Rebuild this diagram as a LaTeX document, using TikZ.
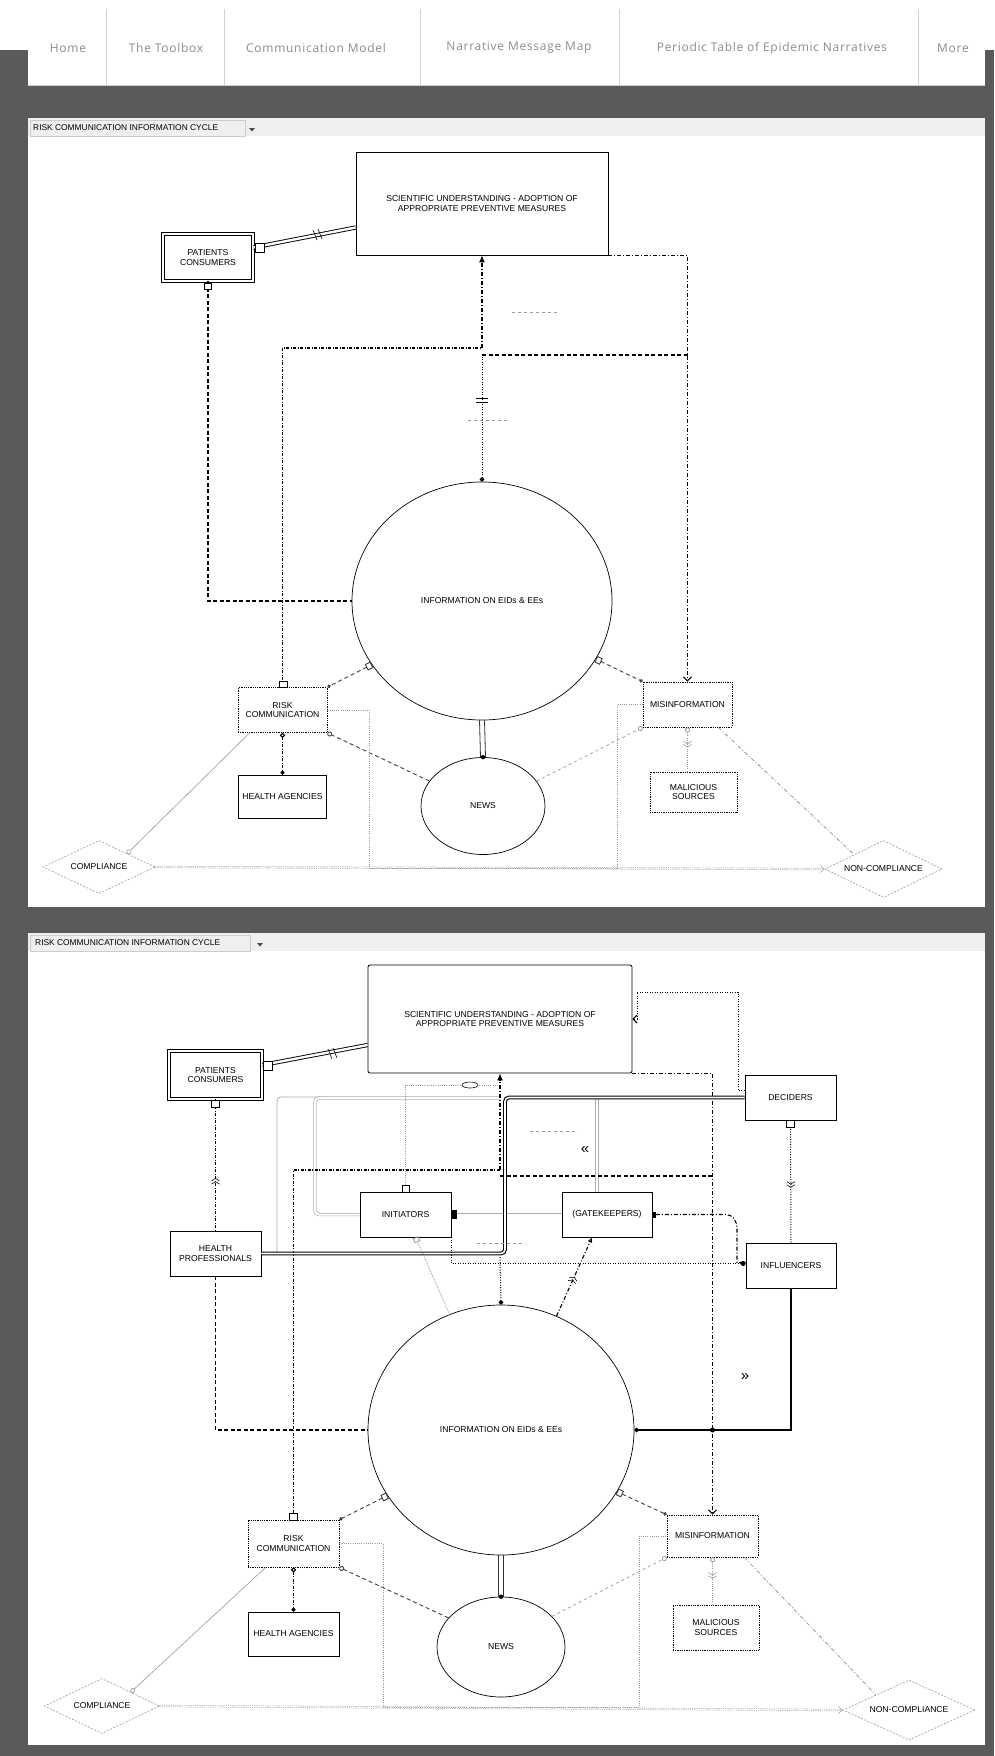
\documentclass[tikz,border=0pt]{standalone}
\usepackage{fontspec}
\setmainfont{Liberation Sans}
\newfontfamily\navfont[LetterSpace=6]{Open Sans}
\usetikzlibrary{shapes.geometric,arrows.meta,decorations.markings}
\definecolor{darkbg}{HTML}{5A5A5A}
\definecolor{navtxt}{HTML}{8C8C8C}
\definecolor{faint}{HTML}{9A9A9A}
\definecolor{barbg}{HTML}{EFEFEF}
\begin{document}
\begin{tikzpicture}[x=1pt,y=-1pt,
  every node/.style={font=\fontsize{8.6}{9.6}\selectfont, align=center, inner sep=0pt},
  navitem/.style={font=\navfont\fontsize{12}{13}\selectfont, text=navtxt},
  ttl/.style={anchor=west, font=\fontsize{8.4}{9}\selectfont},
  ebox/.style={draw, line width=0.8pt, fill=white, rectangle},
  dbox/.style={draw, line width=0.8pt, densely dotted, fill=white, rectangle},
  dblbox/.style={draw, double=white, double distance=2.2pt, line width=0.6pt, rectangle},
  ell/.style={draw, ellipse, line width=0.7pt, fill=white},
  dia/.style={draw=faint, diamond, aspect=2.2, dash pattern=on 2pt off 1.5pt, line width=0.6pt, fill=white},
  heavydash/.style={line width=1.2pt, dash pattern=on 4pt off 2.5pt},
  dashdotline/.style={line width=1.1pt, dash pattern=on 4pt off 2pt on 1pt off 2pt},
  dashdotdot/.style={line width=1.1pt, dash pattern=on 3pt off 1.5pt on 1pt off 1.5pt},
  dotline/.style={line width=1pt, dash pattern=on 1pt off 1.5pt},
  meddash/.style={line width=0.9pt, draw=black!75, dash pattern=on 4pt off 3pt},
  faintdash/.style={line width=0.7pt, draw=faint, dash pattern=on 3pt off 3pt},
  faintdot/.style={line width=0.8pt, draw=faint, dash pattern=on 1pt off 1.2pt},
  faintdd/.style={line width=0.8pt, draw=faint, dash pattern=on 4pt off 2pt on 1pt off 2pt},
  faintline/.style={line width=0.6pt, draw=faint},
  thickdbl/.style={line width=1.1pt, double=white, double distance=1.6pt, rounded corners=4pt},
  graydbl/.style={draw=gray!65, line width=0.7pt, double=white, double distance=2pt, rounded corners=4pt},
  graythin/.style={draw=gray!65, line width=0.8pt, rounded corners=4pt},
  sdbl/.style={line width=0.9pt, double=white, double distance=2.4pt},
  linkside/.style={line width=0.8pt, draw=black!80},
  chevup/.style={postaction={decorate, decoration={markings, mark=at position #1 with {\arrowreversed[line width=0.6pt]{Straight Barb[length=2.5pt,width=8pt] Straight Barb[length=2.5pt,width=8pt]}}}}},
  chevdn/.style={postaction={decorate, decoration={markings, mark=at position #1 with {\arrow[line width=0.6pt]{Straight Barb[length=2.5pt,width=8pt] Straight Barb[length=2.5pt,width=8pt]}}}}},
]
\useasboundingbox (0,0) rectangle (994,1756);
% page background and navigation
\fill[darkbg] (0,0) rectangle (994,1756);
\fill[white] (0,0) rectangle (994,50);
\fill[white] (28,9) rectangle (985,85);
\draw[gray!35, line width=0.5pt] (28,85) -- (985,85);
\foreach \xx in {106,224,420,619,918} \draw[gray!35, line width=0.6pt] (\xx,9) -- (\xx,85);
\node[navitem] (n1) at (68,48) {Home};
\node[navitem] (n2) at (166,48) {The Toolbox};
\node[navitem] (n3) at (316,48) {Communication Model};
\node[navitem] (n4) at (519,48) {Narrative Message Map};
\node[navitem] (n5) at (772,48) {Periodic Table of Epidemic Narratives};
\node[navitem] (n6) at (953,48) {More};

% ================= PANEL 1 =================
\fill[white] (28,118) rectangle (985,907);
\fill[barbg] (28,118) rectangle (985,136);
\draw[gray!40, line width=0.5pt] (30,120) rectangle (245,136);
\node[ttl] (t1) at (33,128) {RISK COMMUNICATION INFORMATION CYCLE};
\fill[black!70] (249,128) -- (255,128) -- (252,131.5) -- cycle;

\node[ebox, minimum width=252pt, minimum height=103pt] (sci1) at (482,203.5) {SCIENTIFIC UNDERSTANDING - ADOPTION OF\\APPROPRIATE PREVENTIVE MEASURES};
\node[dblbox, minimum width=90pt, minimum height=47pt] (pat1) at (208,257.5) {PATIENTS\\CONSUMERS};
\node[ell, minimum width=260pt, minimum height=238pt] (circ1) at (482,601) {INFORMATION ON EIDs \& EEs};
\node[ell, minimum width=124pt, minimum height=97pt] (news1) at (483,806) {NEWS};
\node[dbox, minimum width=89pt, minimum height=45pt] (risk1) at (282.5,710) {RISK\\COMMUNICATION};
\node[ebox, minimum width=88pt, minimum height=43pt] (health1) at (282.5,796.5) {HEALTH AGENCIES};
\node[dia, minimum width=112pt, minimum height=53pt] (comp1) at (99,867) {COMPLIANCE};
\node[dbox, minimum width=89pt, minimum height=45pt] (mis1) at (687.5,704.5) {MISINFORMATION};
\node[dbox, minimum width=87pt, minimum height=40pt] (mal1) at (693.5,792) {MALICIOUS\\SOURCES};
\node[dia, minimum width=117pt, minimum height=57pt] (ncomp1) at (883.5,869) {NON-COMPLIANCE};

\coordinate (p1j) at (482,348);
\coordinate (p1k) at (482,355);
\coordinate (p1m) at (687.5,355);

\draw[sdbl] ([yshift=10pt]pat1.east) -- ([yshift=-24pt]sci1.west);
\draw[line width=0.6pt] (313,230) -- (317,240) (318,229) -- (322,239);
\draw[fill=white, line width=0.7pt] (255,243) rectangle (264,252);
\draw[heavydash] (pat1.south) |- (circ1.west);
\draw[fill=white, line width=0.8pt] (204,283) rectangle (211,289);
\draw[dashdotdot] (risk1.north) |- (p1j);
\draw[fill=white, line width=0.8pt] (279,681) rectangle (287,687.5);
\draw[dashdotline, -{Latex[length=7pt,width=6pt]}] (p1j) -- (sci1.south);
\draw[dotline, {Circle[length=4.5pt]}-] (circ1.north) -- (p1k);
\draw[line width=0.7pt] (476,398) -- (488,398) (476,402) -- (488,402);
\draw[faintdash] (468,420) -- (510,420);
\draw[faintdash] (512,312) -- (558,312);
\draw[heavydash] (p1k) -- (p1m);
\draw[dashdotline, -{Straight Barb[length=4pt,width=8pt]}] (sci1.south east) -| (mis1.north);
\draw[meddash, {Square[open,length=6pt,width=7pt]}-{Circle[length=3.5pt]}] (circ1.210) -- (risk1.north east);
\draw[meddash, {Square[open,length=6pt,width=7pt]}-{Circle[length=3.5pt]}] (circ1.333) -- (mis1.north west);
\draw[linkside] ([xshift=-2.5pt]circ1.south) -- ([xshift=-2.5pt]news1.north);
\draw[linkside] ([xshift=2.5pt]circ1.south) -- ([xshift=2.5pt]news1.north);
\fill (news1.north) circle (2.2pt);
\draw[meddash, -{Circle[open,length=5pt]}] (news1.155) -- (risk1.south east);
\draw[faintdash, -{Circle[open,length=5pt]}] (news1.25) -- (mis1.south west);
\draw[dashdotdot, {Circle[open,length=5pt]}-{Circle[length=4pt]}] (risk1.south) -- (health1.north);
\draw[faintline, -{Circle[open,length=5pt]}] ([xshift=12pt]risk1.south west) -- (comp1.north east);
\draw[faintdot, double=white, double distance=1.2pt, line width=0.5pt, -{Straight Barb[length=4pt,width=7pt]}] (comp1.east) -- (ncomp1.west);
\draw[faintdot] (risk1.east) -- (369,710) -- (369,868) -- (617,868) -- (617,704.5) -- (mis1.west);
\draw[faintdot, chevup=0.55, -{Circle[open,length=5pt]}] (mal1.north -| mis1.south) -- (mis1.south);
\draw[faintdd] ([xshift=-14pt]mis1.south east) -- (ncomp1.north west);

% ================= PANEL 2 =================
\fill[white] (28,933) rectangle (985,1745);
\fill[barbg] (28,933) rectangle (985,951);
\draw[gray!40, line width=0.5pt] (30,935) rectangle (250,951);
\node[ttl] (t2) at (35,943) {RISK COMMUNICATION INFORMATION CYCLE};
\fill[black!70] (257,943) -- (263,943) -- (260,946.5) -- cycle;

\node[ebox, minimum width=264pt, minimum height=108pt, rounded corners=2pt] (sci2) at (500,1019) {SCIENTIFIC UNDERSTANDING - ADOPTION OF\\APPROPRIATE PREVENTIVE MEASURES};
\node[dblbox, minimum width=93pt, minimum height=48pt] (pat2) at (215.5,1075) {PATIENTS\\CONSUMERS};
\node[ebox, minimum width=91pt, minimum height=45pt] (hp2) at (215.5,1253.5) {HEALTH\\PROFESSIONALS};
\node[ebox, minimum width=91pt, minimum height=45pt] (init2) at (405.5,1214.5) {INITIATORS};
\node[ebox, minimum width=90pt, minimum height=45pt] (gate2) at (607,1214.5) {(GATEKEEPERS)};
\node[ebox, minimum width=91pt, minimum height=45pt] (dec2) at (790.5,1097.5) {DECIDERS};
\node[ebox, minimum width=90pt, minimum height=45pt] (inf2) at (791,1265.5) {INFLUENCERS};
\node[ell, minimum width=266pt, minimum height=250pt] (circ2) at (501,1430) {INFORMATION ON EIDs \& EEs};
\node[ell, minimum width=128pt, minimum height=100pt] (news2) at (501,1647) {NEWS};
\node[dbox, minimum width=91pt, minimum height=47pt] (risk2) at (293.5,1543.5) {RISK\\COMMUNICATION};
\node[ebox, minimum width=91pt, minimum height=44pt] (health2) at (293.5,1634) {HEALTH AGENCIES};
\node[dia, minimum width=115pt, minimum height=55pt] (comp2) at (102,1706) {COMPLIANCE};
\node[dbox, minimum width=91pt, minimum height=42pt] (mis2) at (712.5,1536) {MISINFORMATION};
\node[dbox, minimum width=86pt, minimum height=45pt] (mal2) at (716,1627.5) {MALICIOUS\\SOURCES};
\node[dia, minimum width=132pt, minimum height=60pt] (ncomp2) at (909,1710) {NON-COMPLIANCE};

\coordinate (p2j) at (500,1170);
\coordinate (p2k) at (500,1176);
\coordinate (p2m) at (712.5,1176);

% upper connectors
\draw[sdbl] ([yshift=10pt]pat2.east) -- ([yshift=-26pt]sci2.west);
\draw[line width=0.6pt] (328,1049) -- (332,1059) (333,1048) -- (337,1058);
\draw[fill=white, line width=0.7pt] (263,1061) rectangle (272,1070);
\draw[dashdotdot, chevup=0.6] (pat2.south) -- (hp2.north);
\draw[fill=white, line width=0.8pt] (211.5,1100) rectangle (219.5,1107);
\draw[heavydash] (hp2.south) |- (circ2.west);
\draw[dotline, -{Straight Barb[length=4pt,width=8pt]}] ([yshift=7pt]dec2.west) -- (738,1090.5) -- (738,992) -- (637,992) -- (637,1019) -- (sci2.east);
\draw[dashdotline, -{Straight Barb[length=4pt,width=8pt]}] (sci2.south east) -| (mis2.north);
\draw[graythin] (277,1253.5) -- (277,1097) -- (320,1097);
\draw[graydbl] (init2.west) -- (315,1214.5) -- (315,1098) -- (500,1098);
\draw[graydbl] ([xshift=-10pt]gate2.north) -- (597,1098);
\draw[graydbl] (init2.east) -- (gate2.west);
\fill (451,1210) rectangle (457,1219);
\draw[faintdot] (init2.north) -- (405.5,1085) -- (497,1085);
\draw[line width=0.6pt, fill=white] (470,1085) ellipse (8pt and 3pt);
\draw[fill=white, line width=0.7pt] (402,1185) rectangle (409,1192);
\draw[dashdotdot] (risk2.north) |- (p2j);
\draw[fill=white, line width=0.8pt] (289.5,1513) rectangle (297.5,1520);
\draw[dashdotline, -{Latex[length=7pt,width=6pt]}] (p2j) -- (sci2.south);
\draw[heavydash] (p2k) -- (p2m);
\draw[thickdbl] (dec2.west) -- (505,1097.5) -- (505,1253.5) -- (hp2.east);
\draw[dotline, {Circle[length=4.5pt]}-] (circ2.north) -- (500,1257);
\draw[dashdotline, {Square[length=4pt,width=6pt]}-] (gate2.east) -- (726,1214.5) to[out=0,in=90] (737,1228) |- ([yshift=3pt]inf2.west);
\draw[dotline, -{Circle[length=5pt]}] (init2.south east) |- ([yshift=2pt]inf2.west);
\draw[dotline, chevup=0.45] (inf2.north) -- (dec2.south);
\draw[fill=white, line width=0.8pt] (786.5,1120) rectangle (794.5,1127);
\draw[line width=1.2pt, -{Circle[length=4.5pt]}] (inf2.south) |- (circ2.east);
\fill (712.5,1430) circle (2.5pt);
\draw[dashdotline, chevdn=0.5, -{Latex[open,length=5pt,width=5pt]}] (circ2.64) -- ([xshift=-15pt]gate2.south);
\draw[faintdot, -{Square[open,length=5pt,width=6pt]}] (circ2.114) -- ([xshift=10pt]init2.south);
\node[font=\fontsize{15}{15}\selectfont] (lq2) at (585,1150) {«};
\node[font=\fontsize{15}{15}\selectfont] (rq2) at (745,1377) {»};
\draw[faintdash] (530,1131) -- (578,1131);
\draw[faintdash] (477,1243) -- (523,1243);

% lower connectors
\draw[meddash, {Square[open,length=6pt,width=7pt]}-{Circle[length=3.5pt]}] (circ2.210) -- (risk2.north east);
\draw[meddash, {Square[open,length=6pt,width=7pt]}-{Circle[length=3.5pt]}] (circ2.332) -- (mis2.north west);
\draw[linkside] ([xshift=-2.5pt]circ2.south) -- ([xshift=-2.5pt]news2.north);
\draw[linkside] ([xshift=2.5pt]circ2.south) -- ([xshift=2.5pt]news2.north);
\fill (news2.north) circle (2.2pt);
\draw[meddash, -{Circle[open,length=5pt]}] (news2.151) -- (risk2.south east);
\draw[faintdash, -{Circle[open,length=5pt]}] (news2.31) -- (mis2.south west);
\draw[dashdotdot, {Circle[open,length=5pt]}-{Circle[length=4pt]}] (risk2.south) -- (health2.north);
\draw[faintline, -{Circle[open,length=5pt]}] ([xshift=18pt]risk2.south west) -- (comp2.north east);
\draw[faintdot, double=white, double distance=1.2pt, line width=0.5pt, -{Straight Barb[length=4pt,width=7pt]}] (comp2.east) -- (ncomp2.west);
\draw[faintdot] (risk2.east) -- (383,1543.5) -- (383,1707) -- (639,1707) -- (639,1536) -- (mis2.west);
\draw[faintdot, chevup=0.55, -{Circle[open,length=5pt]}] (mal2.north -| mis2.south) -- (mis2.south);
\draw[faintdd] ([xshift=-14pt]mis2.south east) -- (ncomp2.north west);
\end{tikzpicture}
\end{document}
